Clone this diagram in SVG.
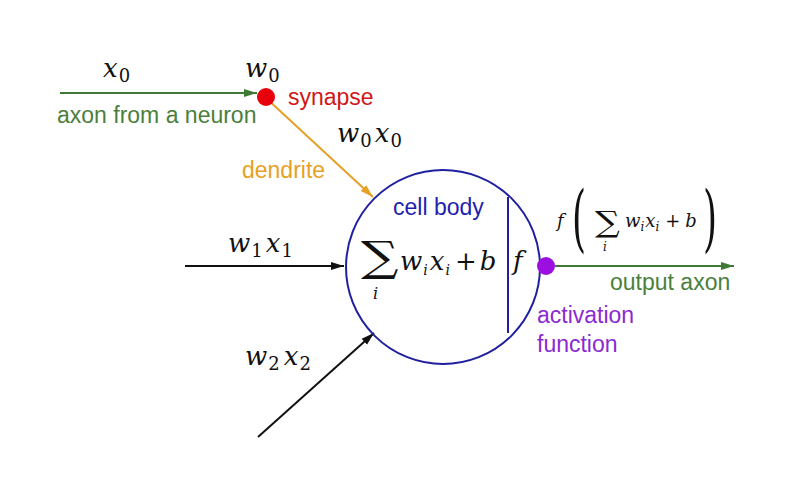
<svg xmlns="http://www.w3.org/2000/svg" width="805" height="480" viewBox="0 0 805 480">
<defs>
<style>
.lbl{font-family:"Liberation Sans",Arial,sans-serif;font-size:23px}
.m{font-family:"DejaVu Serif","Liberation Serif",serif;font-style:italic;font-size:26px;fill:#111;letter-spacing:1px}
.s{font-style:normal;font-size:18px}
.si{font-size:14px}
.m2{font-family:"DejaVu Serif","Liberation Serif",serif;font-style:italic;font-size:18px;fill:#111}
.up{font-style:normal}
.sig{font-family:"DejaVu Serif","Liberation Serif",serif;font-style:normal;fill:#111}
</style>
<marker id="ag" markerUnits="userSpaceOnUse" markerWidth="14" markerHeight="10" refX="13" refY="5" orient="auto"><path d="M0,1 L13,5 L0,9 z" fill="#3f7a35"/></marker>
<marker id="ao" markerUnits="userSpaceOnUse" markerWidth="14" markerHeight="10" refX="13" refY="5" orient="auto"><path d="M0,1 L13,5 L0,9 z" fill="#e6a025"/></marker>
<marker id="ak" markerUnits="userSpaceOnUse" markerWidth="14" markerHeight="10" refX="13" refY="5" orient="auto"><path d="M0,1 L13,5 L0,9 z" fill="#111"/></marker>
</defs>
<rect width="805" height="480" fill="#fff"/>
<g id="connectors" fill="none" stroke-width="2">
<line x1="60" y1="93" x2="257" y2="93" stroke="#3f7a35" marker-end="url(#ag)"/>
<line x1="266" y1="98" x2="373" y2="197" stroke="#e6a025" marker-end="url(#ao)"/>
<line x1="185" y1="266" x2="344" y2="266" stroke="#111" marker-end="url(#ak)"/>
<line x1="258" y1="437" x2="374" y2="333" stroke="#111" marker-end="url(#ak)"/>
<line x1="555" y1="266" x2="734" y2="266" stroke="#3f7a35" marker-end="url(#ag)"/>
</g>
<g id="cell">
<circle cx="443" cy="267" r="97" fill="none" stroke="#1f1fa0" stroke-width="2"/>
<line x1="508" y1="197" x2="508" y2="333" stroke="#1f1fa0" stroke-width="2"/>
<text class="lbl" x="393" y="215" fill="#1f1fb0">cell body</text>
<text class="sig" x="361" y="271" style="font-size:42px" transform="translate(361 0) scale(1.25 1) translate(-361 0)">∑</text>
<text class="m" x="373" y="299" style="font-size:16px">i</text>
<text class="m" x="400" y="270">w<tspan dy="5" class="si">i</tspan><tspan dx="1" dy="-5">x</tspan><tspan dy="5" class="si">i</tspan><tspan dx="4" dy="-5" class="up">+</tspan><tspan dx="2">b</tspan></text>
<text class="m" x="513" y="270">f</text>
</g>
<g id="synapse">
<circle cx="266" cy="97" r="9" fill="#e8000b"/>
<text class="lbl" x="288" y="105" fill="#d01818">synapse</text>
</g>
<g id="activation">
<circle cx="546" cy="266" r="9" fill="#9b10e0"/>
<text class="lbl" x="537" y="323" fill="#8b2ad0">activation</text>
<text class="lbl" x="537" y="352" fill="#8b2ad0">function</text>
</g>
<g id="labels">
<text class="lbl" x="57" y="123" fill="#4a7f3c">axon from a neuron</text>
<text class="lbl" x="242" y="178" fill="#e6a025">dendrite</text>
<text class="lbl" x="610" y="290" fill="#4a7f3c">output axon</text>
<text class="m" x="103" y="77">x<tspan dy="5" class="s">0</tspan></text>
<text class="m" x="245" y="77">w<tspan dy="5" class="s">0</tspan></text>
<text class="m" x="337" y="142">w<tspan dy="5" class="s">0</tspan><tspan dx="2" dy="-5">x</tspan><tspan dy="5" class="s">0</tspan></text>
<text class="m" x="228" y="252">w<tspan dy="5" class="s">1</tspan><tspan dx="2" dy="-5">x</tspan><tspan dy="5" class="s">1</tspan></text>
<text class="m" x="245" y="365">w<tspan dy="5" class="s">2</tspan><tspan dx="3" dy="-5">x</tspan><tspan dy="5" class="s">2</tspan></text>
</g>
<g id="output">
<text class="m2" x="557" y="227">f</text>
<text class="sig" x="572" y="243" style="font-size:72px" transform="translate(572 0) scale(0.5 1) translate(-572 0)">(</text>
<text class="sig" x="595" y="232" style="font-size:29px" transform="translate(595 0) scale(1.2 1) translate(-595 0)">∑</text>
<text class="m2" x="603" y="251" style="font-size:12px">i</text>
<text class="m2" x="625" y="227">w<tspan dy="4" style="font-size:12px">i</tspan><tspan dx="1" dy="-4">x</tspan><tspan dy="4" style="font-size:12px">i</tspan><tspan dx="6" dy="-4" class="up">+</tspan><tspan dx="5">b</tspan></text>
<text class="sig" x="703" y="243" style="font-size:72px" transform="translate(703 0) scale(0.5 1) translate(-703 0)">)</text>
</g>
</svg>
